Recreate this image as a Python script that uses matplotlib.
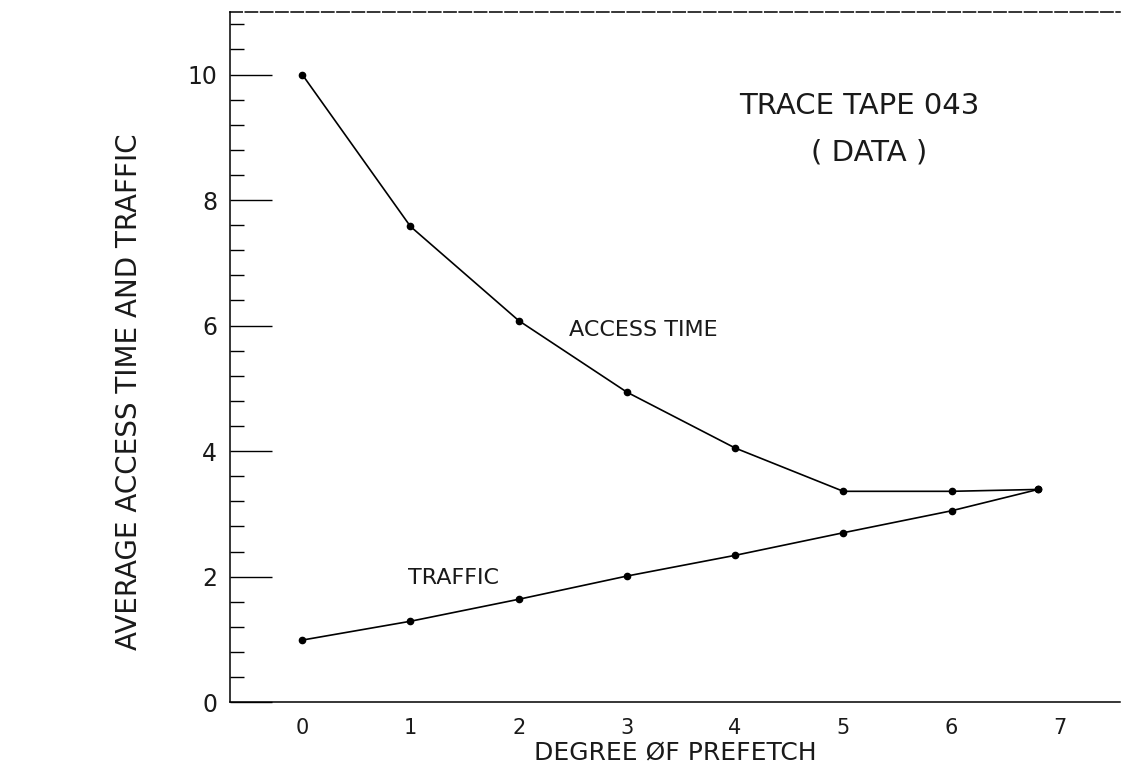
import matplotlib.pyplot as plt
import numpy as np

# degree of prefetch (last point is plotted slightly short of 7 in the original)
degree = [0, 1, 2, 3, 4, 5, 6, 6.8]
access_time = [10.0, 7.58, 6.08, 4.94, 4.05, 3.36, 3.36, 3.39]
traffic = [0.99, 1.29, 1.64, 2.01, 2.34, 2.70, 3.05, 3.39]

xticks = [0, 1, 2, 3, 4, 5, 6, 7]
yticks = [0, 2, 4, 6, 8, 10]

plt.rcParams['font.family'] = ['DejaVu Sans']
ink = '#1a1a1a'

fig = plt.figure(figsize=(11.26, 7.82), dpi=100)
ax = fig.add_axes([0.204, 0.102, 0.791, 0.883])

ax.plot(degree, access_time, color='black', lw=1.2, marker='o', ms=4.5)
ax.plot(degree, traffic, color='black', lw=1.2, marker='o', ms=4.5)

ax.set_xlim(-0.67, 7.56)
ax.set_ylim(0, 11)

ax.set_xticks(xticks)
ax.set_xticklabels([str(t) for t in xticks], fontsize=15, color=ink)
ax.tick_params(axis='x', length=0, pad=11)

ax.set_yticks(yticks)
ax.set_yticklabels([str(t) for t in yticks], fontsize=17, color=ink)
ax.set_yticks(np.arange(0, 11.01, 0.4), minor=True)
ax.tick_params(axis='y', which='major', direction='in', length=30, width=1.0, pad=9)
ax.tick_params(axis='y', which='minor', direction='in', length=10, width=1.0)

ax.spines['right'].set_visible(False)
ax.spines['top'].set_linestyle((0, (8, 2)))
for s in ['left', 'bottom', 'top']:
    ax.spines[s].set_linewidth(1.1)

ax.set_xlabel('DEGREE ØF PREFETCH', fontsize=18, color=ink, labelpad=2)
ax.set_ylabel('AVERAGE ACCESS TIME AND TRAFFIC', fontsize=20, color=ink)
ax.yaxis.set_label_coords(-0.097, 0.45)

ax.text(5.15, 9.5, 'TRACE TAPE 043', fontsize=21, color=ink, ha='center', va='center')
ax.text(5.24, 8.76, '( DATA )', fontsize=21, color=ink, ha='center', va='center')
ax.text(3.15, 5.93, 'ACCESS TIME', fontsize=16, color=ink, ha='center', va='center')
ax.text(1.40, 1.98, 'TRAFFIC', fontsize=16, color=ink, ha='center', va='center')

fig.savefig('out.png', dpi=100)
